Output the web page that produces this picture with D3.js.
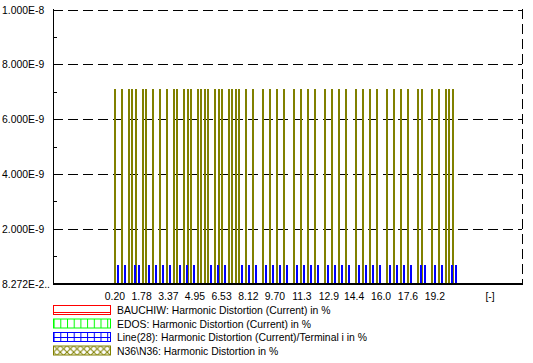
<!DOCTYPE html>
<html>
<head>
<meta charset="utf-8">
<script src="https://cdn.jsdelivr.net/npm/d3@7"></script>
<style>
  body { margin: 0; background: #fff; }
  text { font-family: Arial, "Liberation Sans", sans-serif; font-size: 10.4px; fill: #000; }
</style>
</head>
<body>
<svg id="chart" width="533" height="363"></svg>
<script>
// Bar positions (x in [-] units), value in the y unit.
let n36Pos = [0.22, 0.63, 1.05, 1.23, 1.46, 1.88, 2.06, 2.47, 2.89, 3.31, 3.72, 3.90, 4.32, 4.55, 4.73,
    5.15, 5.32, 5.56, 5.74, 6.16, 6.39, 6.57, 6.99, 7.17, 7.40, 7.58, 8.00, 8.41, 9.01, 9.42, 9.84,
    10.25, 10.85, 11.26, 11.68, 12.09, 12.69, 13.10, 13.52, 13.94, 14.53, 14.94, 15.36, 15.78, 16.37,
    16.79, 17.20, 17.62, 18.21, 18.45, 19.04, 19.46, 19.87, 20.05, 20.29];
let linePos = [0.40, 0.81, 1.41, 1.64, 2.24, 2.65, 3.07, 3.48, 4.08, 4.49, 4.91, 5.92, 6.33, 6.75,
    7.76, 8.17, 8.59, 9.18, 9.60, 10.02, 10.43, 11.03, 11.44, 11.86, 12.27, 12.87, 13.28, 13.70, 14.11,
    14.71, 15.12, 15.54, 15.95, 16.55, 16.96, 17.38, 17.80, 18.39, 18.63, 19.22, 19.64, 20.23, 20.47];
let n36Value = 7.1e-9;
let lineValue = 0.69e-9;

let xTicks = [0.20, 1.78, 3.37, 4.95, 6.53, 8.12, 9.70, 11.3, 12.9, 14.4, 16.0, 17.6, 19.2];
let xTickLabels = ["0.20", "1.78", "3.37", "4.95", "6.53", "8.12", "9.70", "11.3", "12.9", "14.4", "16.0", "17.6", "19.2"];
let yTicks = [2e-9, 4e-9, 6e-9, 8e-9, 1e-8];
let yTickLabels = ["2.000E-9", "4.000E-9", "6.000E-9", "8.000E-9", "1.000E-8"];
let yMinor = [1e-9, 3e-9, 5e-9, 7e-9, 9e-9];
let yZeroLabel = "8.272E-2..";

let legendItems = [
    {label: "BAUCHIW: Harmonic Distortion (Current) in %", color: "#ff0000", pattern: "hlines"},
    {label: "EDOS: Harmonic Distortion (Current) in %", color: "#00ff00", pattern: "vlines"},
    {label: "Line(28): Harmonic Distortion (Current)/Terminal i in %", color: "#0000ff", pattern: "grid"},
    {label: "N36\\N36: Harmonic Distortion in %", color: "#808000", pattern: "cross"},
];

let margin = {top: 9, left: 53, right: 11, bottom: 80};
let svg = d3.select("#chart");
let width = 533, height = 363;
let x0 = margin.left, x1 = width - margin.right;
let y0 = height - margin.bottom, y1 = margin.top;

let xScale = d3.scaleLinear().domain([-3.48, 24.37]).range([x0, x1]);
let yScale = d3.scaleLinear().domain([0, 1e-8]).range([y0 + 0.5, y1 + 0.5]);

let dash = "10,5";

// grid lines
svg.append("g").selectAll("line")
    .data(yTicks)
    .join("line")
    .attr("x1", x0).attr("x2", x1)
    .attr("y1", d => Math.round(yScale(d)) + 0.5).attr("y2", d => Math.round(yScale(d)) + 0.5)
    .attr("stroke", "#000").attr("stroke-dasharray", dash);

// right border dashed
svg.append("line")
    .attr("x1", x1 + 0.5).attr("x2", x1 + 0.5)
    .attr("y1", y1).attr("y2", y0)
    .attr("stroke", "#000").attr("stroke-dasharray", dash);

// bars
let barW = 2;
svg.append("g").selectAll("rect")
    .data(n36Pos)
    .join("rect")
    .attr("x", d => Math.round(xScale(d)) - 1)
    .attr("y", Math.round(yScale(n36Value)))
    .attr("width", barW)
    .attr("height", Math.round(yScale(0)) - Math.round(yScale(n36Value)))
    .attr("fill", "#808000");

svg.append("g").selectAll("rect")
    .data(linePos)
    .join("rect")
    .attr("x", d => Math.round(xScale(d)) - 1)
    .attr("y", Math.round(yScale(lineValue)))
    .attr("width", barW)
    .attr("height", Math.round(yScale(0)) - Math.round(yScale(lineValue)))
    .attr("fill", "#0000ff");

// axes
let yAxis = svg.append("g");
yAxis.append("line")
    .attr("x1", x0 + 0.5).attr("x2", x0 + 0.5)
    .attr("y1", y1).attr("y2", y0 + 1)
    .attr("stroke", "#000");
yAxis.selectAll(".minor")
    .data(yMinor)
    .join("line")
    .attr("class", "minor")
    .attr("x1", x0).attr("x2", x0 + 4)
    .attr("y1", d => Math.round(yScale(d)) + 0.5).attr("y2", d => Math.round(yScale(d)) + 0.5)
    .attr("stroke", "#000");
yAxis.selectAll("text")
    .data(yTicks)
    .join("text")
    .attr("x", 2)
    .attr("y", d => yScale(d) + 4)
    .text((d, i) => yTickLabels[i]);
yAxis.append("text")
    .attr("x", 2).attr("y", yScale(0) + 4)
    .text(yZeroLabel);

svg.append("line")
    .attr("x1", x0).attr("x2", x1 + 1)
    .attr("y1", y0 + 1).attr("y2", y0 + 1)
    .attr("stroke", "#000").attr("stroke-width", 2);

svg.append("g").selectAll("text")
    .data(xTicks)
    .join("text")
    .attr("x", d => xScale(d))
    .attr("y", y0 + 17)
    .attr("text-anchor", "middle")
    .text((d, i) => xTickLabels[i]);
svg.append("text")
    .attr("x", 490).attr("y", y0 + 17)
    .attr("text-anchor", "middle")
    .text("[-]");

// legend patterns
let defs = svg.append("defs");
let p;
p = defs.append("pattern").attr("id", "hlines").attr("patternUnits", "userSpaceOnUse").attr("width", 7).attr("height", 7);
p.append("line").attr("x1", 0).attr("x2", 7).attr("y1", 0.5).attr("y2", 0.5).attr("stroke", "#ff0000");
p = defs.append("pattern").attr("id", "vlines").attr("patternUnits", "userSpaceOnUse").attr("width", 6.7).attr("height", 10);
p.append("line").attr("x1", 0.5).attr("x2", 0.5).attr("y1", 0).attr("y2", 10).attr("stroke", "#00ff00");
p = defs.append("pattern").attr("id", "grid").attr("patternUnits", "userSpaceOnUse").attr("width", 6.7).attr("height", 5);
p.append("line").attr("x1", 0.5).attr("x2", 0.5).attr("y1", 0).attr("y2", 5).attr("stroke", "#0000ff");
p.append("line").attr("x1", 0).attr("x2", 6.7).attr("y1", 0.5).attr("y2", 0.5).attr("stroke", "#0000ff");
p = defs.append("pattern").attr("id", "cross").attr("patternUnits", "userSpaceOnUse").attr("width", 6.7).attr("height", 6.7);
p.append("line").attr("x1", 0).attr("x2", 6.7).attr("y1", 0).attr("y2", 6.7).attr("stroke", "#808000");
p.append("line").attr("x1", 6.7).attr("x2", 0).attr("y1", 0).attr("y2", 6.7).attr("stroke", "#808000");

let legend = svg.append("g").selectAll("g")
    .data(legendItems)
    .join("g")
    .attr("transform", (d, i) => `translate(0,${305 + i * 13.5})`);
legend.append("rect")
    .attr("x", 53.5).attr("y", 0.5)
    .attr("width", 57).attr("height", 9)
    .attr("fill", d => `url(#${d.pattern})`)
    .attr("stroke", d => d.color);
legend.append("text")
    .attr("x", 117).attr("y", 9)
    .text(d => d.label);
</script>
</body>
</html>
